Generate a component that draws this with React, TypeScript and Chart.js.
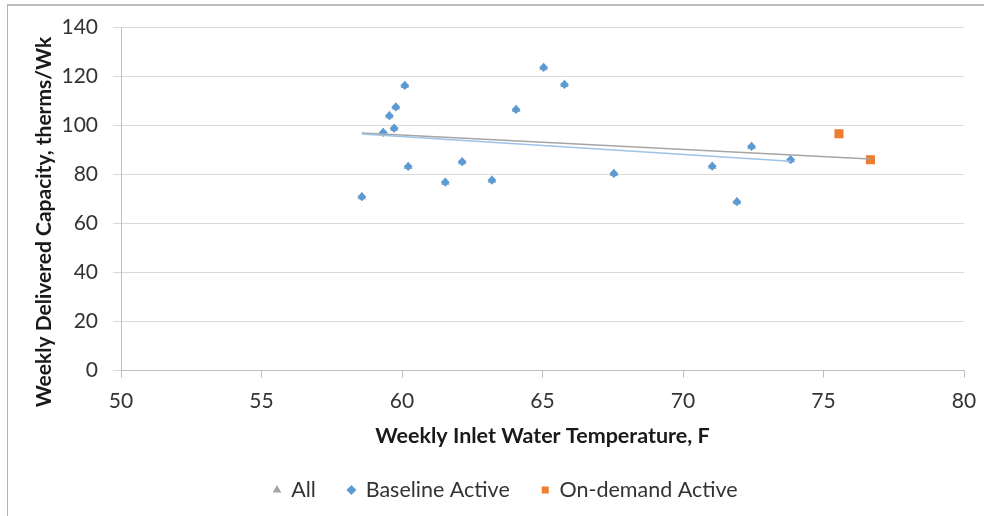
import React, { useEffect, useRef } from "react";
import { Chart, registerables } from "chart.js";

Chart.register(...registerables);

// ---- data ----
const seriesNames = ["All", "Baseline Active", "On-demand Active"];
const baselineTemp = [58.57, 59.33, 59.55, 59.72, 59.78, 60.1, 60.22, 61.54, 62.14, 63.2, 64.06, 65.04, 65.78, 67.54, 71.04, 71.92, 72.44, 73.83];
const baselineCapacity = [70.9, 97.0, 103.9, 98.8, 107.4, 116.2, 83.2, 76.8, 85.1, 77.6, 106.4, 123.5, 116.6, 80.3, 83.3, 68.8, 91.3, 85.9];
const onDemandTemp = [75.55, 76.67];
const onDemandCapacity = [96.5, 85.9];
const allTrendTemp = [58.57, 76.67];
const allTrendCapacity = [96.8, 86.2];
const baselineTrendTemp = [58.57, 73.83];
const baselineTrendCapacity = [96.4, 85.3];
const xTicks = [50, 55, 60, 65, 70, 75, 80];
const yTicks = [0, 20, 40, 60, 80, 100, 120, 140];
const xTitle = "Weekly Inlet Water Temperature, F";
const yTitle = "Weekly Delivered Capacity, therms/Wk";

const pts = (xs: number[], ys: number[]) => xs.map((x, i) => ({ x, y: ys[i] }));

const FONT = "Lato";

const yTitlePlugin = {
  id: "yTitleCustom",
  afterDraw(chart: any) {
    const ctx = chart.ctx;
    ctx.save();
    ctx.translate(44, 222);
    ctx.rotate(-Math.PI / 2);
    ctx.font = `bold 21px ${FONT}`;
    ctx.fillStyle = "#1a1a1a";
    ctx.textAlign = "center";
    ctx.textBaseline = "middle";
    ctx.fillText(yTitle, 0, 0);
    ctx.restore();
  },
};

const legendShiftPlugin = {
  id: "legendShift",
  afterLayout(chart: any) {
    const lg = chart.legend;
    if (!lg || !lg.lineWidths) return;
    const W = lg.lineWidths[0] || 0;
    const pad = lg.options.labels.padding;
    const desiredStart = 273.5;
    const curStart = (lg.left + pad + lg.right - W) / 2;
    const dx = desiredStart - curStart;
    lg.left += dx;
    lg.right += dx;
  },
};

export default function App() {
  const ref = useRef<HTMLCanvasElement>(null);

  useEffect(() => {
    let chart: Chart | null = null;
    let cancelled = false;
    const build = () => {
      if (cancelled || !ref.current) return;
      Chart.defaults.font.family = FONT;
      chart = new Chart(ref.current, {
        type: "scatter",
        data: {
          datasets: [
            {
              label: seriesNames[0],
              data: [...pts(baselineTemp, baselineCapacity), ...pts(onDemandTemp, onDemandCapacity)],
              pointStyle: "triangle",
              pointRadius: 5,
              pointBorderWidth: 0,
              backgroundColor: "#a5a5a5",
              borderColor: "#a5a5a5",
              order: 5,
            },
            {
              label: seriesNames[1],
              data: pts(baselineTemp, baselineCapacity),
              pointStyle: "rectRot",
              pointRadius: 4.5,
              pointBorderWidth: 0,
              backgroundColor: "#5b9bd5",
              borderColor: "#5b9bd5",
              order: 4,
            },
            {
              label: seriesNames[2],
              data: pts(onDemandTemp, onDemandCapacity),
              pointStyle: "rect",
              pointRadius: 6.4,
              pointBorderWidth: 0,
              backgroundColor: "#ed7d31",
              borderColor: "#ed7d31",
              order: 3,
            },
            {
              label: "All trend",
              data: pts(allTrendTemp, allTrendCapacity),
              showLine: true,
              pointRadius: 0,
              borderColor: "#a5a5a5",
              borderWidth: 1.5,
              order: 2,
            },
            {
              label: "Baseline trend",
              data: pts(baselineTrendTemp, baselineTrendCapacity),
              showLine: true,
              pointRadius: 0,
              borderColor: "#9dc3e6",
              borderWidth: 1.5,
              order: 1,
            },
          ],
        },
        options: {
          animation: false,
          responsive: false,
          layout: { padding: { left: 0, right: 20, top: 27, bottom: 5.3 } },
          scales: {
            x: {
              type: "linear",
              min: xTicks[0],
              max: xTicks[xTicks.length - 1],
              afterBuildTicks: (s: any) => {
                s.ticks = xTicks.map((v) => ({ value: v }));
              },
              afterFit: (s: any) => {
                s.height = 76.5;
                s.paddingLeft = 0;
                s.paddingRight = 0;
              },
              grid: { drawOnChartArea: false, drawTicks: true, tickLength: 7, color: "#bfbfbf" },
              border: { display: true, color: "#bfbfbf" },
              ticks: { padding: 11, font: { size: 21 }, color: "#333333", maxRotation: 0 },
              title: {
                display: true,
                text: xTitle,
                font: { size: 21.5, weight: "bold" },
                color: "#1a1a1a",
                padding: { top: 0, bottom: -1.5 },
              },
            },
            y: {
              type: "linear",
              min: yTicks[0],
              max: yTicks[yTicks.length - 1],
              afterBuildTicks: (s: any) => {
                s.ticks = yTicks.map((v) => ({ value: v }));
              },
              afterFit: (s: any) => {
                s.width = 121;
                s.paddingTop = 0;
                s.paddingBottom = 0;
              },
              grid: { color: "#d9d9d9", tickLength: 8 },
              border: { display: true, color: "#bfbfbf" },
              ticks: { padding: 15, font: { size: 21 }, color: "#333333" },
            },
          },
          plugins: {
            legend: {
              position: "bottom",
              labels: {
                usePointStyle: true,
                boxWidth: 7,
                boxHeight: 7,
                padding: 32,
                font: { size: 21.5 },
                color: "#333333",
                filter: (item: any) => item.datasetIndex < 3,
                sort: (a: any, b: any) => a.datasetIndex - b.datasetIndex,
              },
            },
            tooltip: { enabled: false },
          },
        },
        plugins: [yTitlePlugin, legendShiftPlugin],
      } as any);
    };
    const fontsApi = (document as any).fonts;
    if (fontsApi && fontsApi.load) {
      Promise.all([
        fontsApi.load(`21px ${FONT}`),
        fontsApi.load(`bold 21px ${FONT}`),
      ])
        .catch(() => {})
        .then(build);
    } else {
      build();
    }
    return () => {
      cancelled = true;
      if (chart) chart.destroy();
    };
  }, []);

  return (
    <div
      style={{
        position: "fixed",
        left: 0,
        top: 0,
        width: 984,
        height: 516,
        background: "#ffffff",
        overflow: "hidden",
      }}
    >
      <div
        style={{
          position: "absolute",
          left: 7,
          top: 4,
          width: 1000,
          height: 600,
          borderLeft: "1px solid #b4b4b4",
          borderTop: "2px solid #bcbcbc",
        }}
      />
      <canvas ref={ref} width={984} height={516} style={{ position: "absolute", left: 0, top: 0 }} />
    </div>
  );
}
